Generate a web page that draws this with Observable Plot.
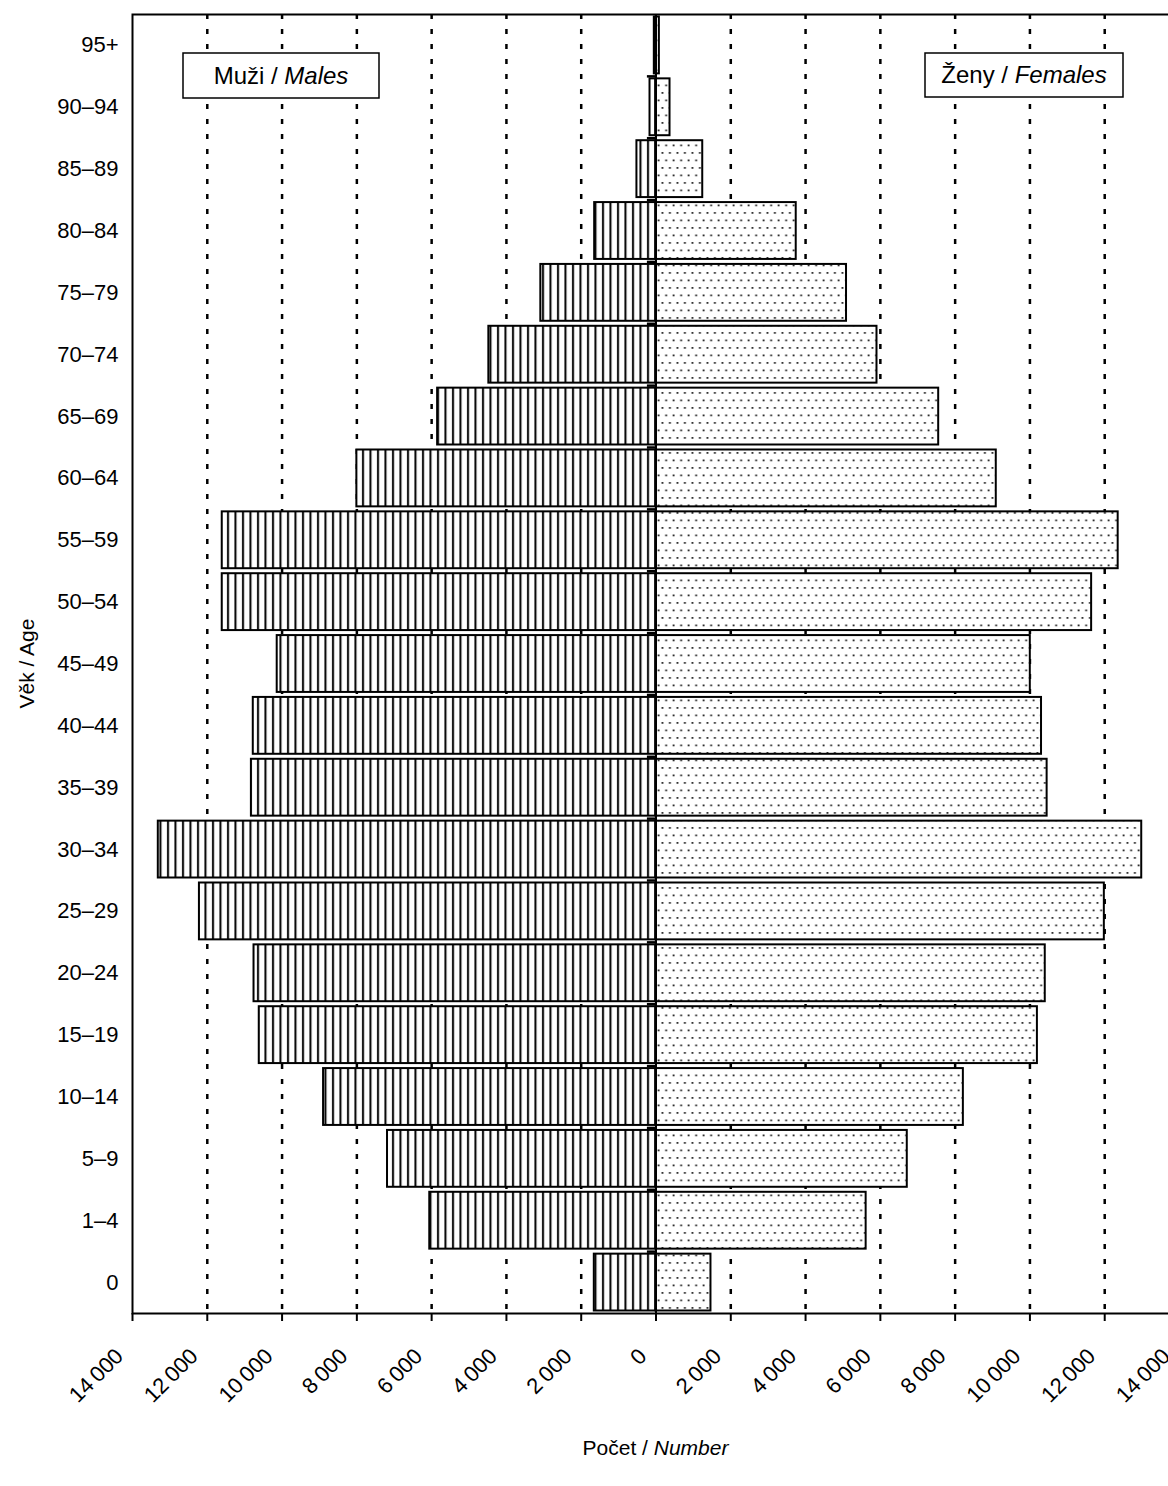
<!DOCTYPE html>
<html><head><meta charset="utf-8">
<script src="https://cdn.jsdelivr.net/npm/d3@7"></script>
<script src="https://cdn.jsdelivr.net/npm/@observablehq/plot@0.6"></script>
<style>
html,body{margin:0;padding:0;background:#fff;overflow:hidden;}
#chart{width:1168px;height:1486px;overflow:hidden;position:relative;}
#chart svg{display:block;max-width:none !important;width:1200px !important;height:1486px !important;}
</style></head><body><div id="chart"></div>
<script>
const ages = ["95+","90–94","85–89","80–84","75–79","70–74","65–69","60–64","55–59","50–54","45–49","40–44","35–39","30–34","25–29","20–24","15–19","10–14","5–9","1–4","0"];
const males =   [45, 160, 510, 1640, 3080, 4470, 5840, 8000, 11600, 11600, 10130, 10770, 10820, 13310, 12210, 10750, 10610, 8890, 7180, 6050, 1650];
const females = [90, 375, 1250, 3750, 5095, 5910, 7560, 9100, 12360, 11650, 10010, 10310, 10460, 12990, 11990, 10410, 10200, 8220, 6720, 5620, 1470];
const xTicks = [-14000,-12000,-10000,-8000,-6000,-4000,-2000,0,2000,4000,6000,8000,10000,12000,14000];
const gridTicks = xTicks.filter(d => d !== 0 && Math.abs(d) !== 14000);

const FONT = '"Liberation Sans Narrow","Arial Narrow","Liberation Sans",Arial,sans-serif';
const fmt = d => d === 0 ? "0" : d3.format(",")(Math.abs(d)).replace(/,/g, "\u2009");

const maleRows = ages.map((a, i) => ({age: a, v: -males[i]}));
const femaleRows = ages.map((a, i) => ({age: a, v: females[i]}));

const H = 1486, MT = 14, MB = 173;
const step = (H - MT - MB) / ages.length;

const plot = Plot.plot({
  width: 1200, height: H,
  marginLeft: 132, marginRight: 21, marginTop: MT, marginBottom: MB,
  style: {fontFamily: FONT, fontSize: "22px", background: "white", color: "black", overflow: "visible"},
  x: {domain: [-14000, 14000]},
  y: {domain: ages, padding: 0, round: false},
  marks: [
    Plot.ruleX(gridTicks, {stroke: "black", strokeWidth: 2.5, strokeDasharray: "5,10"}),
    Plot.barX(maleRows, {x1: 0, x2: "v", y: "age", fill: "url(#stripes)", stroke: "black", strokeWidth: 2, insetTop: 2.5, insetBottom: 2.5}),
    Plot.barX(femaleRows, {x1: 0, x2: "v", y: "age", fill: "url(#dots)", stroke: "black", strokeWidth: 2, insetTop: 2.5, insetBottom: 2.5}),
    Plot.ruleX([0], {stroke: "black", strokeWidth: 2}),
    Plot.ruleY(ages.slice(1), {y: d => d, x1: -230, x2: 0, stroke: "black", strokeWidth: 2.5, dy: -step / 2}),
    Plot.frame({stroke: "black", strokeWidth: 2}),
    Plot.axisY({tickSize: 0, tickPadding: 14, label: null, fontSize: 22}),
    Plot.axisX(xTicks, {tickSize: 8, tickFormat: () => "", label: null, strokeWidth: 2}),
    Plot.axisX(xTicks, {tickSize: 0, tickPadding: 39, dx: -13, tickRotate: -45, tickFormat: fmt, label: null, fontSize: 22})
  ]
});

document.getElementById("chart").appendChild(plot);

const svg = d3.select(plot);
const defs = svg.insert("defs", ":first-child");
const st = defs.append("pattern").attr("id", "stripes").attr("patternUnits", "userSpaceOnUse").attr("width", 7.5).attr("height", 10);
st.append("rect").attr("width", 7.5).attr("height", 10).attr("fill", "white");
st.append("rect").attr("x", 2).attr("width", 2).attr("height", 10).attr("fill", "black");
const dt = defs.append("pattern").attr("id", "dots").attr("patternUnits", "userSpaceOnUse").attr("width", 7.5).attr("height", 15);
dt.append("rect").attr("width", 7.5).attr("height", 15).attr("fill", "white");
dt.append("rect").attr("x", 1.5).attr("y", 2).attr("width", 1.8).attr("height", 1.8).attr("fill", "#222");
dt.append("rect").attr("x", 5.25).attr("y", 9.5).attr("width", 1.8).attr("height", 1.8).attr("fill", "#222");

const xs = plot.scale("x");
function legendBox(x0, x1, y0, y1, plain, ital) {
  const g = svg.append("g");
  g.append("rect").attr("x", x0).attr("y", y0).attr("width", x1 - x0).attr("height", y1 - y0)
    .attr("fill", "white").attr("stroke", "black").attr("stroke-width", 1.5);
  const t = g.append("text").attr("x", (x0 + x1) / 2).attr("y", (y0 + y1) / 2).attr("dy", "0.35em")
    .attr("text-anchor", "middle").attr("font-family", FONT).attr("font-size", 24);
  t.append("tspan").text(plain);
  t.append("tspan").attr("font-style", "italic").text(ital);
}
legendBox(183, 379, 53, 98, "Muži / ", "Males");
legendBox(925, 1123, 53, 97, "Ženy / ", "Females");

const xt = svg.append("text").attr("x", xs.apply(0)).attr("y", 1455).attr("text-anchor", "middle")
  .attr("font-family", FONT).attr("font-size", 21);
xt.append("tspan").text("Počet / ");
xt.append("tspan").attr("font-style", "italic").text("Number");

svg.append("text").attr("transform", `translate(34,${MT + (H - MT - MB) / 2}) rotate(-90)`)
  .attr("text-anchor", "middle").attr("font-family", FONT).attr("font-size", 21).text("Věk / Age");
</script></body></html>
